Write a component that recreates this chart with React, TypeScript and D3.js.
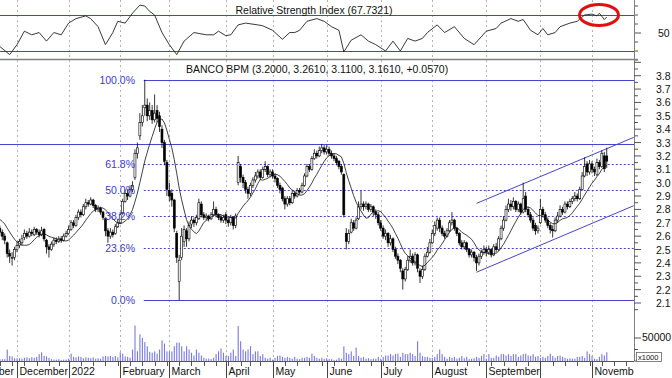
import React from 'react';
import * as d3 from 'd3';

const W = 672;
const H = 378;

// ---------- calendar (Borsa Italiana trading days) ----------
const calendarStart = '2021-11-01';
const calendarEnd = '2022-12-02';
const dataStart = '2021-11-22';
const holidays = ['2021-12-24', '2021-12-31', '2022-04-15', '2022-04-18', '2022-08-15'];
const monthLabels = ['November', 'December', '2022', 'February', 'March', 'April', 'May', 'June', 'July', 'August', 'September', '', 'November'];

// ---------- daily OHLC (from 2021-11-22) ----------
const opens = [
  2.66, 2.63, 2.60, 2.55, 2.47, 2.44, 2.44,
  2.50, 2.53, 2.55, 2.59, 2.62, 2.60, 2.63, 2.61, 2.65, 2.63, 2.61, 2.65, 2.57, 2.52, 2.50, 2.54, 2.57, 2.56, 2.58, 2.57, 2.60,
  2.62, 2.65, 2.70, 2.68, 2.74, 2.78, 2.76, 2.82, 2.85, 2.84, 2.87, 2.83, 2.80, 2.81, 2.78, 2.73, 2.64, 2.60, 2.63, 2.62, 2.67,
  2.70, 2.77, 2.86, 2.92, 2.90, 2.95, 3.04, 3.22, 3.35, 3.45, 3.56, 3.58, 3.50, 3.54, 3.47, 3.54, 3.50, 3.40, 3.30, 3.15,
  2.94, 2.92, 2.87, 2.62, 2.26, 2.44, 2.56, 2.64, 2.58, 2.69, 2.72, 2.70, 2.73, 2.84, 2.76, 2.74, 2.75, 2.73, 2.76, 2.80, 2.76, 2.74, 2.72,
  2.76, 2.72, 2.70, 2.74, 2.68, 3.00, 3.12, 3.04, 3.00, 2.95, 2.92, 2.98, 3.02, 3.05, 3.08, 3.04, 3.10, 3.12, 3.06,
  3.08, 3.05, 3.03, 2.98, 2.96, 2.88, 2.84, 2.88, 2.85, 2.92, 2.90, 2.94, 2.93, 2.98, 3.05, 3.12, 3.10, 3.18, 3.22, 3.20, 3.24, 3.26,
  3.23, 3.25, 3.22, 3.20, 3.18, 3.16, 3.12, 3.06, 2.62, 2.56, 2.63, 2.70, 2.66, 2.73, 2.82, 2.84, 2.82, 2.84, 2.80, 2.82, 2.78, 2.76,
  2.70, 2.66, 2.60, 2.62, 2.55, 2.58, 2.50, 2.45, 2.42, 2.34, 2.28, 2.35, 2.42, 2.45, 2.40, 2.46, 2.34, 2.30, 2.35, 2.45, 2.48,
  2.55, 2.62, 2.66, 2.72, 2.66, 2.62, 2.60, 2.64, 2.70, 2.72, 2.66, 2.62, 2.55, 2.52, 2.55, 2.50, 2.46, 2.48, 2.44, 2.40, 2.45, 2.48,
  2.50, 2.48, 2.50, 2.46, 2.52, 2.50, 2.58, 2.66, 2.72, 2.80, 2.84, 2.82, 2.86, 2.80, 2.84, 2.78, 2.90, 2.80, 2.76, 2.72, 2.68, 2.64,
  2.70, 2.80, 2.76, 2.72, 2.68, 2.65, 2.64, 2.72, 2.75, 2.80, 2.78, 2.84, 2.82, 2.86, 2.88, 2.90, 2.88, 2.95, 3.05, 3.14, 3.08,
  3.14, 3.10, 3.06, 3.15, 3.12, 3.20, 3.20,
];
const highs = [
  2.68, 2.65, 2.62, 2.56, 2.50, 2.48, 2.52,
  2.56, 2.58, 2.61, 2.65, 2.64, 2.66, 2.65, 2.67, 2.66, 2.65, 2.67, 2.66, 2.58, 2.54, 2.56, 2.59, 2.59, 2.60, 2.60, 2.62, 2.64,
  2.68, 2.72, 2.72, 2.76, 2.80, 2.80, 2.84, 2.88, 2.87, 2.89, 2.88, 2.84, 2.83, 2.82, 2.79, 2.74, 2.66, 2.66, 2.65, 2.69, 2.73,
  2.78, 2.88, 2.95, 2.95, 2.98, 3.01, 3.25, 3.30, 3.52, 3.58, 3.77, 3.63, 3.60, 3.58, 3.66, 3.58, 3.53, 3.43, 3.32, 3.17,
  3.00, 2.95, 2.88, 2.64, 2.46, 2.66, 2.68, 2.66, 2.71, 2.75, 2.74, 2.76, 2.88, 2.86, 2.78, 2.77, 2.76, 2.78, 2.86, 2.82, 2.77, 2.76, 2.76,
  2.78, 2.74, 2.76, 2.75, 2.77, 3.20, 3.14, 3.06, 3.02, 2.97, 3.00, 3.04, 3.08, 3.10, 3.10, 3.12, 3.16, 3.13, 3.10,
  3.10, 3.07, 3.04, 3.00, 2.97, 2.90, 2.90, 2.90, 2.94, 2.94, 2.96, 2.96, 3.00, 3.07, 3.14, 3.14, 3.20, 3.25, 3.24, 3.27, 3.29, 3.28,
  3.28, 3.27, 3.24, 3.22, 3.20, 3.17, 3.14, 3.07, 2.66, 2.65, 2.73, 2.72, 2.74, 2.86, 2.94, 2.86, 2.86, 2.85, 2.84, 2.83, 2.80, 2.78,
  2.72, 2.68, 2.65, 2.63, 2.61, 2.59, 2.52, 2.47, 2.43, 2.36, 2.37, 2.45, 2.50, 2.47, 2.48, 2.47, 2.36, 2.38, 2.47, 2.52, 2.58,
  2.65, 2.71, 2.74, 2.74, 2.68, 2.64, 2.66, 2.72, 2.78, 2.73, 2.67, 2.63, 2.57, 2.57, 2.56, 2.51, 2.50, 2.49, 2.46, 2.47, 2.50, 2.53,
  2.52, 2.53, 2.51, 2.54, 2.55, 2.60, 2.68, 2.75, 2.83, 2.88, 2.87, 2.89, 2.87, 2.86, 2.85, 3.00, 2.93, 2.82, 2.78, 2.74, 2.70, 2.68,
  2.88, 2.82, 2.78, 2.74, 2.70, 2.68, 2.74, 2.78, 2.83, 2.82, 2.86, 2.86, 2.88, 2.90, 2.93, 2.92, 2.97, 3.08, 3.19, 3.16, 3.17,
  3.16, 3.12, 3.18, 3.17, 3.24, 3.23, 3.261,
];
const lows = [
  2.60, 2.57, 2.54, 2.44, 2.40, 2.38, 2.42,
  2.48, 2.51, 2.53, 2.57, 2.58, 2.59, 2.60, 2.60, 2.61, 2.59, 2.60, 2.56, 2.47, 2.44, 2.49, 2.52, 2.54, 2.55, 2.55, 2.56, 2.59,
  2.61, 2.64, 2.66, 2.67, 2.72, 2.74, 2.75, 2.80, 2.82, 2.83, 2.81, 2.78, 2.78, 2.76, 2.72, 2.60, 2.55, 2.58, 2.59, 2.61, 2.66,
  2.69, 2.76, 2.85, 2.87, 2.89, 2.93, 3.02, 3.18, 3.32, 3.42, 3.50, 3.46, 3.47, 3.44, 3.45, 3.45, 3.38, 3.26, 3.13, 2.90,
  2.86, 2.82, 2.63, 2.40, 2.12, 2.42, 2.52, 2.52, 2.56, 2.66, 2.67, 2.68, 2.72, 2.74, 2.72, 2.72, 2.71, 2.72, 2.75, 2.74, 2.72, 2.70, 2.70,
  2.69, 2.67, 2.68, 2.65, 2.66, 2.98, 3.00, 2.96, 2.92, 2.88, 2.90, 2.96, 3.00, 3.03, 3.02, 3.03, 3.08, 3.04, 3.04,
  3.03, 3.00, 2.96, 2.92, 2.86, 2.80, 2.82, 2.83, 2.84, 2.88, 2.89, 2.91, 2.92, 2.97, 3.04, 3.08, 3.09, 3.17, 3.18, 3.19, 3.22, 3.21,
  3.21, 3.20, 3.18, 3.16, 3.13, 3.10, 3.06, 2.74, 2.50, 2.54, 2.62, 2.64, 2.65, 2.72, 2.80, 2.79, 2.80, 2.78, 2.78, 2.75, 2.73, 2.68,
  2.64, 2.58, 2.57, 2.52, 2.53, 2.48, 2.43, 2.39, 2.33, 2.20, 2.26, 2.34, 2.40, 2.38, 2.38, 2.33, 2.25, 2.28, 2.34, 2.44, 2.47,
  2.54, 2.60, 2.64, 2.63, 2.60, 2.58, 2.59, 2.63, 2.68, 2.64, 2.60, 2.53, 2.50, 2.50, 2.48, 2.44, 2.44, 2.41, 2.34, 2.38, 2.43, 2.46,
  2.45, 2.46, 2.44, 2.45, 2.48, 2.49, 2.57, 2.64, 2.71, 2.78, 2.79, 2.80, 2.78, 2.78, 2.76, 2.77, 2.78, 2.74, 2.70, 2.64, 2.61, 2.62,
  2.69, 2.74, 2.70, 2.66, 2.62, 2.59, 2.63, 2.70, 2.74, 2.76, 2.77, 2.80, 2.81, 2.84, 2.86, 2.86, 2.87, 2.94, 3.04, 3.05, 3.06,
  3.07, 3.05, 3.05, 3.10, 3.11, 3.08, 3.11,
];
const closes = [
  2.63, 2.60, 2.57, 2.47, 2.45, 2.44, 2.50,
  2.53, 2.56, 2.58, 2.62, 2.60, 2.63, 2.62, 2.65, 2.63, 2.61, 2.64, 2.58, 2.52, 2.50, 2.54, 2.57, 2.56, 2.58, 2.57, 2.60, 2.62,
  2.65, 2.70, 2.68, 2.74, 2.78, 2.76, 2.82, 2.85, 2.84, 2.87, 2.83, 2.80, 2.81, 2.78, 2.74, 2.64, 2.60, 2.63, 2.61, 2.67, 2.70,
  2.76, 2.86, 2.92, 2.90, 2.95, 2.98, 3.22, 3.26, 3.45, 3.50, 3.58, 3.50, 3.54, 3.47, 3.52, 3.48, 3.42, 3.30, 3.16, 2.95,
  2.90, 2.87, 2.66, 2.44, 2.42, 2.60, 2.65, 2.58, 2.68, 2.72, 2.70, 2.74, 2.85, 2.76, 2.74, 2.75, 2.73, 2.76, 2.80, 2.76, 2.74, 2.72, 2.74,
  2.72, 2.70, 2.74, 2.68, 2.75, 3.15, 3.04, 3.00, 2.95, 2.92, 2.98, 3.02, 3.05, 3.08, 3.04, 3.10, 3.12, 3.06, 3.08,
  3.05, 3.03, 2.98, 2.95, 2.88, 2.84, 2.88, 2.85, 2.92, 2.90, 2.94, 2.93, 2.98, 3.05, 3.12, 3.10, 3.18, 3.22, 3.20, 3.24, 3.26, 3.23,
  3.25, 3.22, 3.20, 3.18, 3.15, 3.12, 3.08, 2.76, 2.56, 2.62, 2.70, 2.66, 2.72, 2.82, 2.84, 2.82, 2.84, 2.80, 2.82, 2.78, 2.76, 2.70,
  2.66, 2.60, 2.62, 2.55, 2.58, 2.50, 2.45, 2.42, 2.36, 2.28, 2.35, 2.42, 2.45, 2.40, 2.46, 2.36, 2.30, 2.35, 2.45, 2.48, 2.55,
  2.62, 2.68, 2.72, 2.66, 2.62, 2.60, 2.64, 2.70, 2.72, 2.66, 2.62, 2.55, 2.52, 2.55, 2.50, 2.46, 2.48, 2.44, 2.40, 2.45, 2.48, 2.50,
  2.48, 2.50, 2.46, 2.52, 2.50, 2.58, 2.66, 2.72, 2.80, 2.84, 2.82, 2.86, 2.80, 2.84, 2.78, 2.88, 2.80, 2.76, 2.72, 2.66, 2.64, 2.66,
  2.80, 2.76, 2.72, 2.68, 2.65, 2.64, 2.72, 2.75, 2.80, 2.78, 2.84, 2.82, 2.86, 2.88, 2.90, 2.88, 2.95, 3.05, 3.12, 3.08, 3.14,
  3.10, 3.08, 3.15, 3.12, 3.22, 3.104, 3.161,
];
// closes of the ten sessions before the first visible one (moving-average warm-up, off-screen)
const priorCloses = [2.74, 2.75, 2.76, 2.78, 2.74, 2.72, 2.76, 2.73, 2.70, 2.68];

// volume, millions of shares
const volumes = [
  4, 4, 4, 25, 11, 10, 6,
  6, 6, 5, 7, 8, 6, 8, 7, 9, 15, 19, 11, 10, 7, 4, 3, 3, 4, 2, 3, 3,
  5, 16, 9, 8, 10, 9, 6, 8, 7, 6, 8, 5, 6, 5, 10, 11, 10, 11, 9, 11, 8,
  19, 16, 10, 9, 7, 25, 77, 21, 58, 50, 41, 32, 20, 18, 21, 16, 25, 45, 38, 21,
  21, 21, 32, 40, 40, 32, 21, 32, 25, 18, 12, 25, 18, 12, 7, 5, 5, 4, 7, 15, 21, 27, 18,
  11, 11, 18, 25, 11, 76, 43, 25, 21, 25, 32, 15, 21, 21, 11, 15, 7, 5, 7,
  3, 7, 11, 12, 9, 7, 9, 7, 5, 9, 5, 4, 7, 7, 9, 7, 16, 11, 7, 5, 7, 5,
  6, 4, 4, 2, 3, 7, 5, 32, 18, 15, 21, 11, 29, 11, 7, 9, 5, 6, 4, 5, 5, 9,
  5, 9, 12, 12, 15, 12, 15, 16, 9, 18, 15, 15, 18, 15, 11, 43, 18, 11, 9, 9, 7,
  7, 9, 15, 25, 15, 9, 5, 9, 7, 9, 5, 7, 11, 6, 9, 4, 5, 6, 9, 7, 11, 15,
  5, 15, 7, 7, 12, 9, 15, 15, 12, 15, 11, 15, 15, 9, 12, 15, 16, 12, 11, 15, 9, 11,
  7, 9, 7, 11, 16, 11, 7, 11, 12, 9, 7, 5, 6, 5, 5, 9, 9, 11, 7, 21, 15,
  11, 5, 4, 9, 15, 12, 19,
];

// RSI: session index (0 = 2021-11-22) and value
const rsiDays = [0, 4, 7, 10, 13, 16, 19, 22, 25, 28, 31, 35, 37, 40, 43, 46, 48, 51, 54, 57, 59, 61, 63, 66, 69, 72, 75, 79, 84, 87, 89, 92, 94, 97, 100, 105, 107, 111, 115, 118, 120, 122, 125, 129, 132, 135, 138, 140, 143, 147, 150, 153, 157, 160, 163, 166, 169, 172, 174, 178, 181, 185, 189, 193, 198, 202, 204, 208, 211, 213, 216, 219, 221, 223, 226, 228, 232, 235, 238, 241, 243, 244, 246, 247];
const rsiValues = [35, 26, 37, 52, 48, 50.5, 41, 50.5, 48, 61, 66, 69, 66, 57, 37, 50.5, 63, 61, 72, 81, 80, 74, 70, 50.5, 37, 26, 41, 50.5, 48, 48, 52, 47, 48, 59, 61, 59, 58, 53, 43, 50.5, 50.5, 53, 63, 66, 63, 57, 53, 29, 42, 48, 41, 37, 30, 41, 30, 44, 41, 44, 50.5, 59, 50.5, 57, 44, 37, 52, 55, 61, 66, 63, 65, 53, 48, 55, 48, 50.5, 57, 61, 63, 70, 71, 69, 72, 65, 67.7321];

const maPeriod = 10;
const fibLevels = [0, 0.236, 0.382, 0.5, 0.618, 1];
const resistanceLevel = 3.29;
const channelStart = '2022-08-26';
const channelEnd = '2022-11-24';
const channelUpper = [2.845, 3.339];
const channelLower = [2.33, 2.828];
const priceTicks = d3.range(2.0, 3.901, 0.05).map((v) => Math.round(v * 100) / 100);
const volumeTickValues = [0, 25, 50];
const rsiTickValues = [20, 30, 40, 50, 60, 70, 80];
const lastChange = closes[closes.length - 1] - closes[closes.length - 2];

const BLUE = '#4646c8';
const FONT = 'Liberation Sans, Arial, Helvetica, sans-serif';

export default function App() {
  const fmt = d3.utcFormat('%Y-%m-%d');
  const calendar: string[] = [];
  d3.utcDay
    .range(new Date(calendarStart + 'T00:00:00Z'), d3.utcDay.offset(new Date(calendarEnd + 'T00:00:00Z'), 1))
    .forEach((d) => {
      const wd = d.getUTCDay();
      const s = fmt(d);
      if (wd !== 0 && wd !== 6 && !holidays.includes(s)) calendar.push(s);
    });
  const calIndex = (s: string) => calendar.indexOf(s);
  const off = calIndex(dataStart);

  const right = 634;
  const axisY = 361;
  const x = d3.scaleLinear().domain([calIndex('2021-12-01'), calIndex('2022-11-01')]).range([17, 592]);
  const xd = (i: number) => x(i + off);
  const yP = d3.scaleLinear().domain([2.1, 3.8]).range([303, 75.7]);
  const yR = d3.scaleLinear().domain([30, 70]).range([51, 15]);
  const yV = d3.scaleLinear().domain([0, 50]).range([axisY, 338]);

  // month starts & week starts
  const monthStarts: number[] = [];
  const weekStarts: number[] = [];
  calendar.forEach((s, i) => {
    if (i === 0 || s.slice(0, 7) !== calendar[i - 1].slice(0, 7)) monthStarts.push(i);
    const d = new Date(s + 'T00:00:00Z');
    if (i === 0 || d.getUTCDay() <= new Date(calendar[i - 1] + 'T00:00:00Z').getUTCDay()) weekStarts.push(i);
  });

  // moving average
  const allCloses = priorCloses.concat(closes);
  const ma: [number, number][] = [];
  for (let i = 0; i < closes.length; i++) {
    const j = i + priorCloses.length;
    const w = allCloses.slice(j - maPeriod + 1, j + 1);
    ma.push([xd(i), yP(d3.mean(w) as number)]);
  }
  const line = d3.line();

  const rsiPts: [number, number][] = rsiDays.map((d, i) => [xd(d), yR(rsiValues[i])]);

  const hi = d3.max(highs) as number;
  const lo = d3.min(lows) as number;
  const hiIdx = highs.indexOf(hi);
  const fibX0 = xd(hiIdx) - 1;

  const cs = x(calIndex(channelStart));
  const ce = x(calIndex(channelEnd));

  const n = closes.length - 1;
  const title = `BANCO BPM (${opens[n].toFixed(4)}, ${highs[n].toFixed(4)}, ${lows[n].toFixed(4)}, ${closes[n].toFixed(4)}, ${lastChange >= 0 ? '+' : ''}${lastChange.toFixed(4)})`;

  return (
    <div style={{ position: 'absolute', left: 0, top: 0, width: W, height: H, overflow: 'hidden', background: '#fff' }}>
      <svg width={W} height={H} style={{ display: 'block' }} fontFamily={FONT}>
        <defs>
          <clipPath id="rsiClip"><rect x={0} y={0} width={right} height={59.5} /></clipPath>
          <clipPath id="plotClip"><rect x={0} y={60} width={right} height={axisY - 60} /></clipPath>
          <clipPath id="axisClip"><rect x={0} y={axisY} width={right} height={H - axisY} /></clipPath>
        </defs>
        <rect x={0} y={0} width={W} height={H} fill="#fff" />

        {/* vertical month grid */}
        {monthStarts.map((i) => {
          const gx = Math.round(x(i)) + 0.5;
          if (gx < 0 || gx > right) return null;
          return <line key={'g' + i} x1={gx} x2={gx} y1={0} y2={axisY} stroke="#b4b4b4" strokeDasharray="2,3" strokeWidth={1} />;
        })}

        {/* RSI panel */}
        <line x1={0} x2={right} y1={Math.round(yR(70)) + 0.5} y2={Math.round(yR(70)) + 0.5} stroke={BLUE} strokeWidth={1} />
        <line x1={0} x2={right} y1={Math.round(yR(30)) + 0.5} y2={Math.round(yR(30)) + 0.5} stroke={BLUE} strokeWidth={1} />
        <text x={314} y={13.5} fontSize={10.5} textAnchor="middle" fill="#111">{`Relative Strength Index (${rsiValues[rsiValues.length - 1].toFixed(4)})`}</text>
        <path d={line(rsiPts) || ''} fill="none" stroke="#222" strokeWidth={0.9} clipPath="url(#rsiClip)" />
        <ellipse cx={599} cy={15} rx={19.5} ry={10.5} fill="none" stroke="#e01010" strokeWidth={3} />
        {rsiTickValues.map((v) => (
          <line key={'rt' + v} x1={right} x2={right + (v === 50 ? 7 : 4)} y1={yR(v)} y2={yR(v)} stroke="#555" strokeWidth={1} />
        ))}
        <text x={658} y={37} fontSize={10.5} fill="#111">50</text>

        {/* panel separator */}
        <line x1={0} x2={right + 4} y1={59.5} y2={59.5} stroke="#808080" strokeWidth={1.6} />

        <g clipPath="url(#plotClip)">
          {/* fibonacci */}
          {fibLevels.map((lv) => {
            const yy = Math.round(yP(lo + (hi - lo) * lv)) + 0.5;
            const solid = lv === 0 || lv === 1;
            return (
              <line key={'f' + lv} x1={fibX0} x2={right} y1={yy} y2={yy} stroke={BLUE} strokeWidth={1} strokeDasharray={solid ? undefined : '2,2'} />
            );
          })}
          <line x1={0} x2={right} y1={Math.round(yP(resistanceLevel)) + 0.5} y2={Math.round(yP(resistanceLevel)) + 0.5} stroke={BLUE} strokeWidth={1} />
          {/* channel */}
          <line x1={cs} x2={ce} y1={yP(channelUpper[0])} y2={yP(channelUpper[1])} stroke={BLUE} strokeWidth={1} />
          <line x1={cs} x2={ce} y1={yP(channelLower[0])} y2={yP(channelLower[1])} stroke={BLUE} strokeWidth={1} />

          {/* volume */}
          {volumes.map((v, i) => (
            <rect key={'v' + i} x={xd(i) - 0.5} y={yV(v)} width={1.1} height={axisY - yV(v)} fill="#7878e6" />
          ))}

          {/* candles */}
          {closes.map((c, i) => {
            const o = opens[i];
            const cx = xd(i);
            const top = yP(Math.max(o, c));
            const bot = yP(Math.min(o, c));
            const up = c >= o;
            return (
              <g key={'c' + i}>
                <line x1={cx} x2={cx} y1={yP(Math.max(highs[i], o, c))} y2={yP(Math.min(lows[i], o, c))} stroke="#000" strokeWidth={0.8} />
                <rect x={cx - 1} y={top} width={2} height={Math.max(0.8, bot - top)} fill={up ? '#fff' : '#000'} stroke="#000" strokeWidth={0.6} />
              </g>
            );
          })}
          <path d={line(ma) || ''} fill="none" stroke="#111" strokeWidth={0.8} />
        </g>

        <text x={186} y={73} fontSize={10.5} fill="#111">{title}</text>

        {/* fib labels */}
        {fibLevels.map((lv) => (
          <text key={'fl' + lv} x={135} y={yP(lo + (hi - lo) * lv) + 4} fontSize={10.5} textAnchor="end" fill="#3a3ad0">
            {`${(lv * 100).toFixed(1)}%`}
          </text>
        ))}

        {/* right axis */}
        <line x1={right + 0.5} x2={right + 0.5} y1={0} y2={axisY} stroke="#808080" strokeWidth={1} />
        {priceTicks.map((p) => {
          const yy = yP(p);
          if (yy < 61 || yy > 312) return null;
          const major = Math.round(p * 100) % 10 === 0;
          return <line key={'pt' + p} x1={right} x2={right + (major ? 7 : 4)} y1={yy} y2={yy} stroke="#555" strokeWidth={1} />;
        })}
        {priceTicks.filter((p) => p >= 2.1 && p <= 3.8 && Math.round(p * 100) % 10 === 0).map((p) => (
          <text key={'pl' + p} x={656} y={yP(p) + 4} fontSize={10.5} fill="#111">{p.toFixed(1)}</text>
        ))}
        {volumeTickValues.map((v) => (
          <line key={'vt' + v} x1={right} x2={right + (v === 50 ? 7 : 4)} y1={yV(v)} y2={yV(v)} stroke="#555" strokeWidth={1} />
        ))}
        <text x={642} y={341} fontSize={10.5} fill="#111">{'50000'}</text>
        <rect x={636.5} y={352.5} width={25} height={9} fill="#fff" stroke="#666" strokeWidth={0.8} />
        <text x={638} y={360} fontSize={7.5} fill="#111">x1000</text>

        {/* bottom axis */}
        <line x1={0} x2={right} y1={axisY + 0.5} y2={axisY + 0.5} stroke="#555" strokeWidth={1} />
        {weekStarts.map((i) => {
          const wx = Math.round(x(i)) + 0.5;
          if (wx < 0 || wx > right) return null;
          return <line key={'w' + i} x1={wx} x2={wx} y1={axisY} y2={axisY + 5} stroke="#555" strokeWidth={1} />;
        })}
        <g clipPath="url(#axisClip)">
          {monthStarts.map((i, k) => {
            const mx = Math.round(x(i)) + 0.5;
            return (
              <g key={'m' + i}>
                {mx > 0 && mx < right && <line x1={mx} x2={mx} y1={axisY} y2={H} stroke="#444" strokeWidth={1} />}
                {monthLabels[k] && <text x={mx + 2} y={375} fontSize={10.5} fill="#111">{monthLabels[k]}</text>}
              </g>
            );
          })}
        </g>
      </svg>
    </div>
  );
}
